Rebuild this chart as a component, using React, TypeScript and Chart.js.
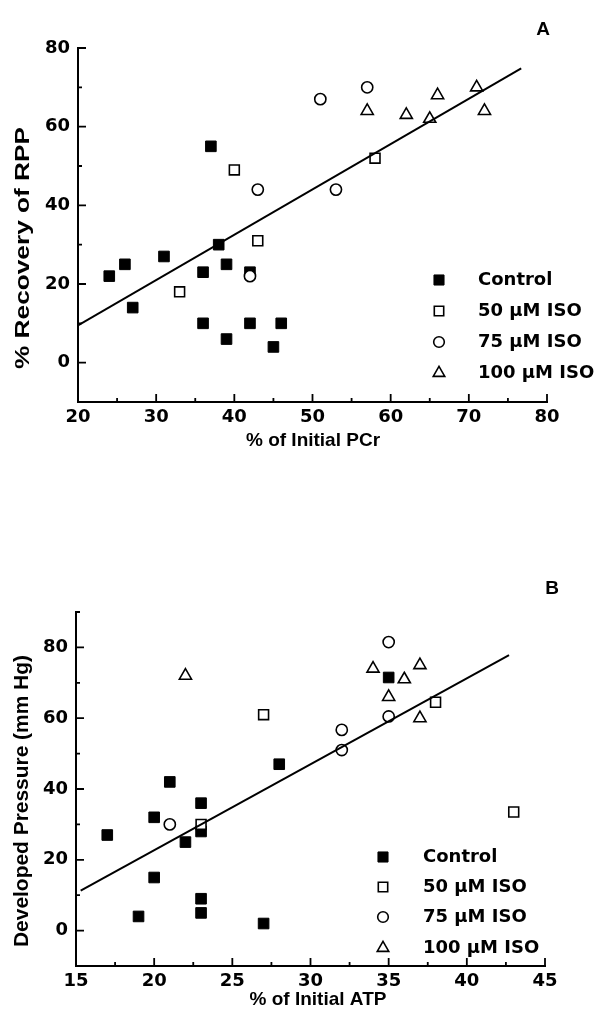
import React, { useEffect, useRef } from 'react';
import { Chart, registerables } from 'chart.js';
import { drawPoint } from 'chart.js/helpers';

Chart.register(...registerables);

// ---------- data ----------
const seriesNames = ['Control', '50 µM ISO', '75 µM ISO', '100 µM ISO'];

// Panel A: % Recovery of RPP vs % of Initial PCr
const pcrControlX = [24, 26, 27, 31, 36, 36, 37, 38, 39, 39, 42, 42, 45, 46];
const pcrControlY = [22, 25, 14, 27, 23, 10, 55, 30, 25, 6, 23, 10, 4, 10];
const pcrIso50X = [33, 40, 43, 58];
const pcrIso50Y = [18, 49, 31, 52];
const pcrIso75X = [42, 43, 51, 53, 57];
const pcrIso75Y = [22, 44, 67, 44, 70];
const pcrIso100X = [57, 62, 65, 66, 71, 72];
const pcrIso100Y = [64, 63, 62, 68, 70, 64];
const pcrFitX = [20, 76.7];
const pcrFitY = [9.5, 74.8];
const pcrXTicks = [20, 30, 40, 50, 60, 70, 80];
const pcrXMinor = [25, 35, 45, 55, 65, 75];
const pcrYTicks = [0, 20, 40, 60, 80];
const pcrYMinor = [10, 30, 50, 70];

// Panel B: Developed Pressure vs % of Initial ATP
const atpControlX = [17, 19, 20, 20, 21, 22, 23, 23, 23, 23, 27, 28, 35];
const atpControlY = [27, 4, 32, 15, 42, 25, 36, 28, 9, 5, 2, 47, 71.5];
const atpIso50X = [23, 27, 38, 43];
const atpIso50Y = [30, 61, 64.5, 33.5];
const atpIso75X = [21, 32, 32, 35, 35];
const atpIso75Y = [30, 56.7, 51, 81.5, 60.5];
const atpIso100X = [22, 34, 35, 36, 37, 37];
const atpIso100Y = [72, 74, 66, 71, 75, 60];
const atpFitX = [15.3, 42.7];
const atpFitY = [11.3, 77.8];
const atpXTicks = [15, 20, 25, 30, 35, 40, 45];
const atpXMinor = [17.5, 22.5, 27.5, 32.5, 37.5, 42.5];
const atpYTicks = [0, 20, 40, 60, 80];
const atpYMinor = [10, 30, 50, 70, 90];

// ---------- styles ----------
const markerStyles = [
  { pointStyle: 'rect', radius: 7.5, bg: '#000', bw: 1 },
  { pointStyle: 'rect', radius: 7, bg: '#fff', bw: 1.6 },
  { pointStyle: 'circle', radius: 5.6, bg: '#fff', bw: 1.6 },
  { pointStyle: 'triangle', radius: 7, bg: '#fff', bw: 1.6 },
];

const TICK_FONT = { family: 'DejaVu Sans', weight: 'bold' as const, size: 18 };

type Panel = {
  xs: number[][];
  ys: number[][];
  fitX: number[];
  fitY: number[];
  xMin: number; xMax: number; yMin: number; yMax: number;
  xTicks: number[]; xMinor: number[]; yTicks: number[]; yMinor: number[];
  xTitle: string; yTitle: string; letter: string;
  height: number;
  area: { left: number; top: number; right: number; bottom: number };
  legend: { markerX: number; textX: number; rows: number[] };
  xTitlePos: [number, number, number];
  yTitlePos: [number, number, number, number];
  letterPos: [number, number];
};

const panels: Panel[] = [
  {
    xs: [pcrControlX, pcrIso50X, pcrIso75X, pcrIso100X],
    ys: [pcrControlY, pcrIso50Y, pcrIso75Y, pcrIso100Y],
    fitX: pcrFitX, fitY: pcrFitY,
    xMin: 20, xMax: 80, yMin: -10, yMax: 80,
    xTicks: pcrXTicks, xMinor: pcrXMinor, yTicks: pcrYTicks, yMinor: pcrYMinor,
    xTitle: '% of Initial PCr', yTitle: '% Recovery of RPP', letter: 'A',
    height: 470,
    area: { left: 78, top: 48, right: 547, bottom: 402 },
    legend: { markerX: 439, textX: 478, rows: [280, 311, 342, 373] },
    xTitlePos: [313, 441, 19],
    yTitlePos: [23, 248, 242, 20],
    letterPos: [543, 30],
  },
  {
    xs: [atpControlX, atpIso50X, atpIso75X, atpIso100X],
    ys: [atpControlY, atpIso50Y, atpIso75Y, atpIso100Y],
    fitX: atpFitX, fitY: atpFitY,
    xMin: 15, xMax: 45, yMin: -10, yMax: 90,
    xTicks: atpXTicks, xMinor: atpXMinor, yTicks: atpYTicks, yMinor: atpYMinor,
    xTitle: '% of Initial ATP', yTitle: 'Developed Pressure (mm Hg)', letter: 'B',
    height: 560,
    area: { left: 76, top: 142, right: 545, bottom: 496 },
    legend: { markerX: 383, textX: 423, rows: [387, 417, 447, 478] },
    xTitlePos: [318, 530, 19],
    yTitlePos: [22, 331, 292, 20],
    letterPos: [552, 119],
  },
];

function drawText(
  ctx: CanvasRenderingContext2D, text: string, x: number, y: number,
  font: string, width?: number, rotate?: boolean, align: CanvasTextAlign = 'center'
) {
  ctx.save();
  ctx.translate(x, y);
  if (rotate) ctx.rotate(-Math.PI / 2);
  ctx.font = font;
  ctx.fillStyle = '#000';
  ctx.textAlign = align;
  ctx.textBaseline = 'middle';
  if (width) {
    const m = ctx.measureText(text).width;
    ctx.scale(width / m, 1);
  }
  ctx.fillText(text, 0, 0);
  ctx.restore();
}

function makeDecor(p: Panel) {
  return {
    id: 'decor' + p.letter,
    afterDraw(chart: any) {
      const ctx: CanvasRenderingContext2D = chart.ctx;
      const xs = chart.scales.x;
      const ys = chart.scales.y;
      const x0 = xs.getPixelForValue(p.xMin);
      const x1 = xs.getPixelForValue(p.xMax);
      const y0 = ys.getPixelForValue(p.yMin);
      const y1 = ys.getPixelForValue(p.yMax);
      ctx.save();
      ctx.strokeStyle = '#000';
      ctx.lineWidth = 2;
      ctx.lineCap = 'square';
      ctx.beginPath();
      ctx.moveTo(x0, y1);
      ctx.lineTo(x0, y0);
      ctx.lineTo(x1, y0);
      ctx.stroke();
      ctx.lineCap = 'butt';
      ctx.lineWidth = 1.8;
      ctx.beginPath();
      p.xTicks.forEach((v) => { const px = xs.getPixelForValue(v); ctx.moveTo(px, y0); ctx.lineTo(px, y0 - 8); });
      p.xMinor.forEach((v) => { const px = xs.getPixelForValue(v); ctx.moveTo(px, y0); ctx.lineTo(px, y0 - 4); });
      p.yTicks.forEach((v) => { const py = ys.getPixelForValue(v); ctx.moveTo(x0, py); ctx.lineTo(x0 + 8, py); });
      p.yMinor.forEach((v) => { const py = ys.getPixelForValue(v); ctx.moveTo(x0, py); ctx.lineTo(x0 + 4, py); });
      ctx.stroke();

      // legend
      seriesNames.forEach((name, i) => {
        const st = markerStyles[i];
        const y = p.legend.rows[i];
        ctx.fillStyle = st.bg;
        ctx.strokeStyle = '#000';
        ctx.lineWidth = st.bw;
        drawPoint(ctx, { pointStyle: st.pointStyle as any, radius: st.radius * 0.95, rotation: 0, borderWidth: st.bw }, p.legend.markerX, y);
        drawText(ctx, name, p.legend.textX, y, 'bold 18px "DejaVu Sans"', undefined, false, 'left');
      });

      // titles
      drawText(ctx, p.xTitle, p.xTitlePos[0], p.xTitlePos[1], `bold ${p.xTitlePos[2]}px "Liberation Sans"`);
      drawText(ctx, p.yTitle, p.yTitlePos[0], p.yTitlePos[1], `bold ${p.yTitlePos[3]}px "Liberation Sans"`, p.yTitlePos[2], true);
      drawText(ctx, p.letter, p.letterPos[0], p.letterPos[1], 'bold 19px "Liberation Sans"');
      ctx.restore();
    },
  };
}

function PanelChart({ p }: { p: Panel }) {
  const ref = useRef<HTMLCanvasElement | null>(null);
  useEffect(() => {
    if (!ref.current) return;
    const datasets: any[] = [
      {
        label: 'fit',
        data: p.fitX.map((x, i) => ({ x, y: p.fitY[i] })),
        showLine: true,
        borderColor: '#000',
        borderWidth: 2,
        pointRadius: 0,
        order: 0,
      },
      ...seriesNames.map((name, i) => ({
        label: name,
        data: p.xs[i].map((x, j) => ({ x, y: p.ys[i][j] })),
        pointStyle: markerStyles[i].pointStyle,
        pointRadius: markerStyles[i].radius,
        pointBackgroundColor: markerStyles[i].bg,
        pointBorderColor: '#000',
        pointBorderWidth: markerStyles[i].bw,
        showLine: false,
        order: 4 - i,
      })),
    ];
    const chart = new Chart(ref.current, {
      type: 'scatter',
      data: { datasets },
      options: {
        animation: false,
        responsive: false,
        devicePixelRatio: 1,
        layout: {
          padding: { left: 0, top: p.area.top, right: 605 - p.area.right, bottom: 0 },
        },
        plugins: { legend: { display: false }, tooltip: { enabled: false }, title: { display: false } },
        scales: {
          x: {
            type: 'linear',
            min: p.xMin,
            max: p.xMax,
            grid: { display: false, drawTicks: false },
            border: { display: false },
            ticks: { color: '#000', font: TICK_FONT, padding: 5, maxRotation: 0, autoSkip: false },
            afterBuildTicks: (s: any) => { s.ticks = p.xTicks.map((v) => ({ value: v })); },
            afterFit: (s: any) => { s.height = p.height - p.area.bottom; },
          },
          y: {
            type: 'linear',
            min: p.yMin,
            max: p.yMax,
            grid: { display: false, drawTicks: false },
            border: { display: false },
            ticks: { color: '#000', font: TICK_FONT, padding: 8, autoSkip: false },
            afterBuildTicks: (s: any) => { s.ticks = p.yTicks.map((v) => ({ value: v })); },
            afterFit: (s: any) => { s.width = p.area.left; },
          },
        },
      },
      plugins: [makeDecor(p)],
    });
    return () => chart.destroy();
  }, [p]);
  return <canvas ref={ref} width={605} height={p.height} style={{ display: 'block' }} />;
}

export default function App() {
  return (
    <div style={{ position: 'absolute', left: 0, top: 0, width: 605, height: 1030, background: '#fff' }}>
      {panels.map((p) => (
        <PanelChart key={p.letter} p={p} />
      ))}
    </div>
  );
}
